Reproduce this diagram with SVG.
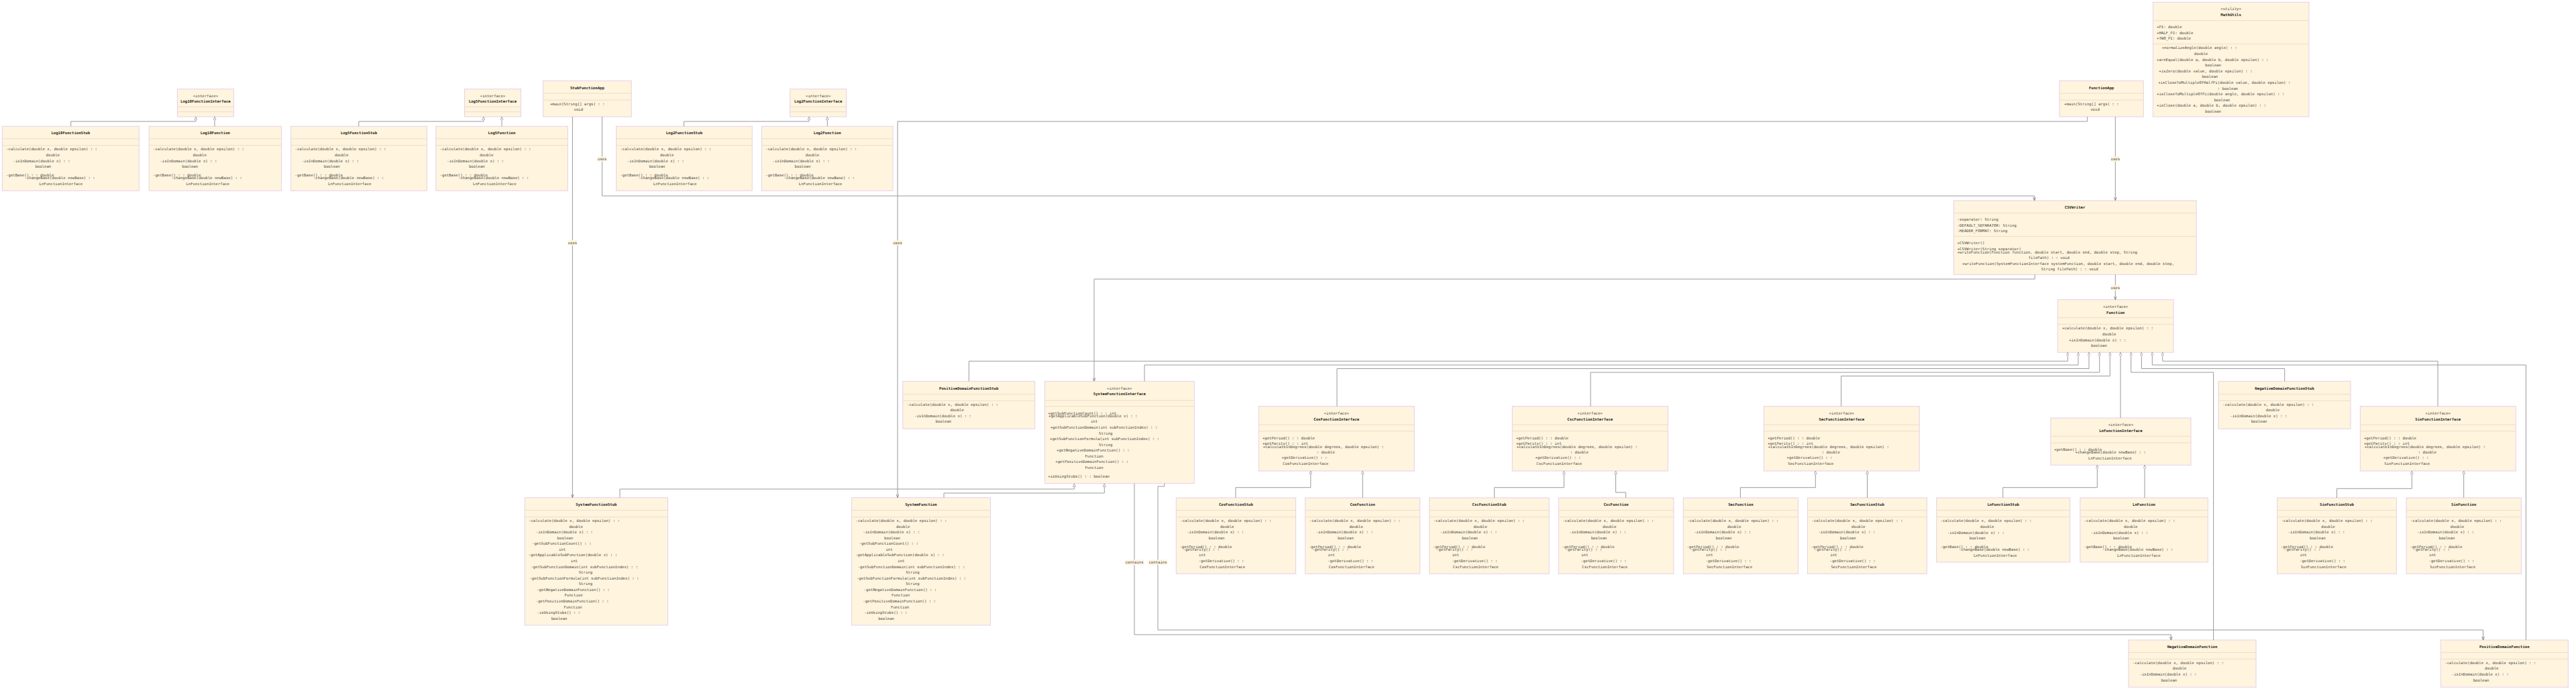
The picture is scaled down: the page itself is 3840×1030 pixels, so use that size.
<svg xmlns="http://www.w3.org/2000/svg" width="3840" height="1030" viewBox="0 0 3840 1030">
<style>
.bx{fill:#fff4dd;stroke:#e6d0ea;stroke-width:1}
.dv{stroke:#eedcc8;stroke-width:1}
text{font-family:"DejaVu Sans Mono","Liberation Mono",monospace;font-size:5.65px;fill:#444;dominant-baseline:central}
.b{font-weight:bold;fill:#222}
.c{text-anchor:middle}
.e{fill:none;stroke:#9a9a9a;stroke-width:1}
.r{marker-end:url(#tri)}
.d{marker-end:url(#open)}
.lb{fill:#fff4dd;opacity:0.9}
</style>
<defs>
<marker id="tri" viewBox="0 0 10 10" refX="10" refY="5" markerWidth="5" markerHeight="5" markerUnits="userSpaceOnUse" orient="auto"><path d="M0,1 L10,5 L0,9 z" fill="#fff" stroke="#9a9a9a" stroke-width="1.6"/></marker>
<marker id="open" viewBox="0 0 10 10" refX="10" refY="5" markerWidth="5" markerHeight="5" markerUnits="userSpaceOnUse" orient="auto"><path d="M0,1 L10,5 L0,9" fill="none" stroke="#777" stroke-width="1.6"/></marker>
</defs>
<rect width="3840" height="1030" fill="#fff"/>

<g id="Log10FunctionInterface" transform="translate(264.4,132.7)">
<rect class="bx" width="84" height="41.3"/><line class="dv" x1="0" y1="26.6" x2="84" y2="26.6"/><line class="dv" x1="0" y1="34" x2="84" y2="34"/>
<text class="c" x="42" y="10.6">«interface»</text><text class="b c" x="42" y="18.6">Log10FunctionInterface</text>
</g>
<g id="Log5FunctionInterface" transform="translate(692.5,132.7)">
<rect class="bx" width="84" height="41.3"/><line class="dv" x1="0" y1="26.6" x2="84" y2="26.6"/><line class="dv" x1="0" y1="34" x2="84" y2="34"/>
<text class="c" x="42" y="10.6">«interface»</text><text class="b c" x="42" y="18.6">Log5FunctionInterface</text>
</g>
<g id="Log2FunctionInterface" transform="translate(1177.7,132.7)">
<rect class="bx" width="84" height="41.3"/><line class="dv" x1="0" y1="26.6" x2="84" y2="26.6"/><line class="dv" x1="0" y1="34" x2="84" y2="34"/>
<text class="c" x="42" y="10.6">«interface»</text><text class="b c" x="42" y="18.6">Log2FunctionInterface</text>
</g>

<g id="Log10FunctionStub" transform="translate(3.3,188.3)">
<rect class="bx" width="204" height="96"/><line class="dv" x1="0" y1="18.5" x2="204" y2="18.5"/><line class="dv" x1="0" y1="28.5" x2="204" y2="28.5"/>
<text class="b c" x="102" y="10">Log10FunctionStub</text>
<text x="5.8" y="34">-calculate(double x, double epsilon) : :</text><text class="c" x="75.5" y="42.7">double</text>
<text x="16.2" y="51.7">-isInDomain(double x) : :</text><text class="c" x="61" y="59.7">boolean</text>
<text x="5.8" y="73">-getBase() : : double</text><text x="33.2" y="77">-changeBase(double newBase) : :</text><text class="c" x="87.5" y="85.7">LnFunctionInterface</text>
</g>
<g id="Log10Function" transform="translate(222.2,188.3)">
<rect class="bx" width="197.4" height="96"/><line class="dv" x1="0" y1="18.5" x2="197.4" y2="18.5"/><line class="dv" x1="0" y1="28.5" x2="197.4" y2="28.5"/>
<text class="b c" x="98.7" y="10">Log10Function</text>
<text x="5.8" y="34">-calculate(double x, double epsilon) : :</text><text class="c" x="75.5" y="42.7">double</text>
<text x="16.2" y="51.7">-isInDomain(double x) : :</text><text class="c" x="61" y="59.7">boolean</text>
<text x="5.8" y="73">-getBase() : : double</text><text x="33.2" y="77">-changeBase(double newBase) : :</text><text class="c" x="87.5" y="85.7">LnFunctionInterface</text>
</g>
<g id="Log5FunctionStub" transform="translate(433.7,188.3)">
<rect class="bx" width="202.7" height="96"/><line class="dv" x1="0" y1="18.5" x2="202.7" y2="18.5"/><line class="dv" x1="0" y1="28.5" x2="202.7" y2="28.5"/>
<text class="b c" x="101.3" y="10">Log5FunctionStub</text>
<text x="5.8" y="34">-calculate(double x, double epsilon) : :</text><text class="c" x="75.5" y="42.7">double</text>
<text x="16.2" y="51.7">-isInDomain(double x) : :</text><text class="c" x="61" y="59.7">boolean</text>
<text x="5.8" y="73">-getBase() : : double</text><text x="33.2" y="77">-changeBase(double newBase) : :</text><text class="c" x="87.5" y="85.7">LnFunctionInterface</text>
</g>
<g id="Log5Function" transform="translate(649.8,188.3)">
<rect class="bx" width="196.5" height="96"/><line class="dv" x1="0" y1="18.5" x2="196.5" y2="18.5"/><line class="dv" x1="0" y1="28.5" x2="196.5" y2="28.5"/>
<text class="b c" x="98.2" y="10">Log5Function</text>
<text x="5.8" y="34">-calculate(double x, double epsilon) : :</text><text class="c" x="75.5" y="42.7">double</text>
<text x="16.2" y="51.7">-isInDomain(double x) : :</text><text class="c" x="61" y="59.7">boolean</text>
<text x="5.8" y="73">-getBase() : : double</text><text x="33.2" y="77">-changeBase(double newBase) : :</text><text class="c" x="87.5" y="85.7">LnFunctionInterface</text>
</g>
<g id="Log2FunctionStub" transform="translate(918.6,188.3)">
<rect class="bx" width="202.6" height="96"/><line class="dv" x1="0" y1="18.5" x2="202.6" y2="18.5"/><line class="dv" x1="0" y1="28.5" x2="202.6" y2="28.5"/>
<text class="b c" x="101.3" y="10">Log2FunctionStub</text>
<text x="5.8" y="34">-calculate(double x, double epsilon) : :</text><text class="c" x="75.5" y="42.7">double</text>
<text x="16.2" y="51.7">-isInDomain(double x) : :</text><text class="c" x="61" y="59.7">boolean</text>
<text x="5.8" y="73">-getBase() : : double</text><text x="33.2" y="77">-changeBase(double newBase) : :</text><text class="c" x="87.5" y="85.7">LnFunctionInterface</text>
</g>
<g id="Log2Function" transform="translate(1135.5,188.3)">
<rect class="bx" width="195.5" height="96"/><line class="dv" x1="0" y1="18.5" x2="195.5" y2="18.5"/><line class="dv" x1="0" y1="28.5" x2="195.5" y2="28.5"/>
<text class="b c" x="97.7" y="10">Log2Function</text>
<text x="5.8" y="34">-calculate(double x, double epsilon) : :</text><text class="c" x="75.5" y="42.7">double</text>
<text x="16.2" y="51.7">-isInDomain(double x) : :</text><text class="c" x="61" y="59.7">boolean</text>
<text x="5.8" y="73">-getBase() : : double</text><text x="33.2" y="77">-changeBase(double newBase) : :</text><text class="c" x="87.5" y="85.7">LnFunctionInterface</text>
</g>

<g id="StubFunctionApp" transform="translate(809.6,120.5)">
<rect class="bx" width="131.7" height="53.5"/><line class="dv" x1="0" y1="18.7" x2="131.7" y2="18.7"/><line class="dv" x1="0" y1="28.7" x2="131.7" y2="28.7"/>
<text class="b c" x="65.8" y="10.3">StubFunctionApp</text>
<text x="10.3" y="34.6">+main(String[] args) : :</text><text class="c" x="52.7" y="42.8">void</text>
</g>
<g id="FunctionApp" transform="translate(3070,120.5)">
<rect class="bx" width="125.3" height="53.5"/><line class="dv" x1="0" y1="18.7" x2="125.3" y2="18.7"/><line class="dv" x1="0" y1="28.7" x2="125.3" y2="28.7"/>
<text class="b c" x="62.6" y="10.3">FunctionApp</text>
<text x="7" y="34.6">+main(String[] args) : :</text><text class="c" x="53" y="42.8">void</text>
</g>

<g id="MathUtils" transform="translate(3209.3,3.3)">
<rect class="bx" width="232.7" height="170.7"/><line class="dv" x1="0" y1="27.4" x2="232.7" y2="27.4"/><line class="dv" x1="0" y1="62.4" x2="232.7" y2="62.4"/>
<text class="c" x="116.3" y="10">«utility»</text><text class="b c" x="116.3" y="18.7">MathUtils</text>
<text x="5.7" y="36.7">+PI: double</text><text x="5.7" y="45.7">+HALF_PI: double</text><text x="5.7" y="53.7">+TWO_PI: double</text>
<text x="13.4" y="67.7">+normalizeAngle(double angle) : :</text><text class="c" x="71.7" y="76.7">double</text>
<text x="5.7" y="86">+areEqual(double a, double b, double epsilon) : :</text><text class="c" x="89.7" y="94">boolean</text>
<text x="9" y="103">+isZero(double value, double epsilon) : :</text><text class="c" x="85" y="111">boolean</text>
<text x="8" y="120">+isCloseToMultipleOfHalfPi(double value, double epsilon) :</text><text class="c" x="111.7" y="129">: boolean</text>
<text x="5.7" y="136.7">+isCloseToMultipleOfPi(double angle, double epsilon) : :</text><text class="c" x="103" y="145.7">boolean</text>
<text x="5.7" y="154">+isClose(double a, double b, double epsilon) : :</text><text class="c" x="89.7" y="162.4">boolean</text>
</g>

<g id="CSVWriter" transform="translate(2912.3,299)">
<rect class="bx" width="361.7" height="110.3"/><line class="dv" x1="0" y1="18.7" x2="361.7" y2="18.7"/><line class="dv" x1="0" y1="53.3" x2="361.7" y2="53.3"/>
<text class="b c" x="180.8" y="10">CSVWriter</text>
<text x="5.4" y="28">-separator: String</text><text x="5.4" y="36.7">-DEFAULT_SEPARATOR: String</text><text x="5.4" y="45">-HEADER_FORMAT: String</text>
<text x="5.4" y="63.3">+CSVWriter()</text><text x="5.4" y="71.7">+CSVWriter(String separator)</text>
<text x="5.4" y="77">+writeFunction(Function function, double start, double end, double step, String</text><text class="c" x="142" y="85">filePath) : : void</text>
<text x="12.7" y="94">+writeFunction(SystemFunctionInterface systemFunction, double start, double end, double step,</text><text class="c" x="173" y="102">String filePath) : : void</text>
</g>

<g id="Function" transform="translate(3067.3,446.7)">
<rect class="bx" width="172.7" height="78.6"/><line class="dv" x1="0" y1="27" x2="172.7" y2="27"/><line class="dv" x1="0" y1="36.6" x2="172.7" y2="36.6"/>
<text class="c" x="86.3" y="10">«interface»</text><text class="b c" x="86.3" y="19.3">Function</text>
<text x="6.7" y="42.6">+calculate(double x, double epsilon) : :</text><text class="c" x="77" y="51.3">double</text>
<text x="17" y="60.6">+isInDomain(double x) : :</text><text class="c" x="61.7" y="68.6">boolean</text>
</g>

<g id="PositiveDomainFunctionStub" transform="translate(1345.7,568.3)">
<rect class="bx" width="197" height="71"/><line class="dv" x1="0" y1="19.4" x2="197" y2="19.4"/><line class="dv" x1="0" y1="29" x2="197" y2="29"/>
<text class="b c" x="98.5" y="10.7">PositiveDomainFunctionStub</text>
<text x="6.3" y="35">-calculate(double x, double epsilon) : :</text><text class="c" x="81" y="42.7">double</text>
<text x="17.3" y="52">-isInDomain(double x) : :</text><text class="c" x="60.6" y="60">boolean</text>
</g>
<g id="NegativeDomainFunctionStub" transform="translate(3307,568.3)">
<rect class="bx" width="197" height="71"/><line class="dv" x1="0" y1="19.4" x2="197" y2="19.4"/><line class="dv" x1="0" y1="29" x2="197" y2="29"/>
<text class="b c" x="98.5" y="10.7">NegativeDomainFunctionStub</text>
<text x="6.3" y="35">-calculate(double x, double epsilon) : :</text><text class="c" x="81" y="42.7">double</text>
<text x="17.3" y="52">-isInDomain(double x) : :</text><text class="c" x="60.6" y="60">boolean</text>
</g>

<g id="SystemFunctionInterface" transform="translate(1557.3,568.3)">
<rect class="bx" width="223" height="152.4"/><line class="dv" x1="0" y1="28.7" x2="223" y2="28.7"/><line class="dv" x1="0" y1="37.4" x2="223" y2="37.4"/>
<text class="c" x="111.5" y="10.7">«interface»</text><text class="b c" x="111.5" y="18.7">SystemFunctionInterface</text>
<text x="5" y="47.7">+getSubFunctionCount() : : int</text>
<text x="5.7" y="52">+getApplicableSubFunction(double x) : :</text><text class="c" x="73.7" y="59.7">int</text>
<text x="8.4" y="69">+getSubFunctionDomain(int subFunctionIndex) : :</text><text class="c" x="91" y="77.7">String</text>
<text x="7.7" y="85.7">+getSubFunctionFormula(int subFunctionIndex) : :</text><text class="c" x="91" y="94.7">String</text>
<text x="17.7" y="103">+getNegativeDomainFunction() : :</text><text class="c" x="73.7" y="111.7">Function</text>
<text x="16" y="120">+getPositiveDomainFunction() : :</text><text class="c" x="73.7" y="128.7">Function</text>
<text x="5" y="142">+isUsingStubs() : : boolean</text>
</g>

<g id="CosFunctionInterface" transform="translate(1876.3,605.7)">
<rect class="bx" width="232" height="96.3"/><line class="dv" x1="0" y1="27.3" x2="232" y2="27.3"/><line class="dv" x1="0" y1="37" x2="232" y2="37"/>
<text class="c" x="116" y="10">«interface»</text><text class="b c" x="116" y="19.3">CosFunctionInterface</text>
<text x="5.6" y="47.3">+getPeriod() : : double</text><text x="5.6" y="55.3">+getParity() : : int</text>
<text x="6.5" y="60">+calculateInDegrees(double degrees, double epsilon) :</text><text class="c" x="100" y="68">: double</text>
<text x="34.3" y="76.3">+getDerivative() : :</text><text class="c" x="70" y="85">CosFunctionInterface</text>
</g>
<g id="CscFunctionInterface" transform="translate(2254.3,605.7)">
<rect class="bx" width="232" height="96.3"/><line class="dv" x1="0" y1="27.3" x2="232" y2="27.3"/><line class="dv" x1="0" y1="37" x2="232" y2="37"/>
<text class="c" x="116" y="10">«interface»</text><text class="b c" x="116" y="19.3">CscFunctionInterface</text>
<text x="5.6" y="47.3">+getPeriod() : : double</text><text x="5.6" y="55.3">+getParity() : : int</text>
<text x="6.5" y="60">+calculateInDegrees(double degrees, double epsilon) :</text><text class="c" x="100" y="68">: double</text>
<text x="34.3" y="76.3">+getDerivative() : :</text><text class="c" x="70" y="85">CscFunctionInterface</text>
</g>
<g id="SecFunctionInterface" transform="translate(2629.3,605.7)">
<rect class="bx" width="232" height="96.3"/><line class="dv" x1="0" y1="27.3" x2="232" y2="27.3"/><line class="dv" x1="0" y1="37" x2="232" y2="37"/>
<text class="c" x="116" y="10">«interface»</text><text class="b c" x="116" y="19.3">SecFunctionInterface</text>
<text x="5.6" y="47.3">+getPeriod() : : double</text><text x="5.6" y="55.3">+getParity() : : int</text>
<text x="6.5" y="60">+calculateInDegrees(double degrees, double epsilon) :</text><text class="c" x="100" y="68">: double</text>
<text x="34.3" y="76.3">+getDerivative() : :</text><text class="c" x="70" y="85">SecFunctionInterface</text>
</g>
<g id="SinFunctionInterface" transform="translate(3518.3,605.7)">
<rect class="bx" width="232" height="96.3"/><line class="dv" x1="0" y1="27.3" x2="232" y2="27.3"/><line class="dv" x1="0" y1="37" x2="232" y2="37"/>
<text class="c" x="116" y="10">«interface»</text><text class="b c" x="116" y="19.3">SinFunctionInterface</text>
<text x="5.6" y="47.3">+getPeriod() : : double</text><text x="5.6" y="55.3">+getParity() : : int</text>
<text x="6.5" y="60">+calculateInDegrees(double degrees, double epsilon) :</text><text class="c" x="100" y="68">: double</text>
<text x="34.3" y="76.3">+getDerivative() : :</text><text class="c" x="70" y="85">SinFunctionInterface</text>
</g>
<g id="LnFunctionInterface" transform="translate(3056.9,623)">
<rect class="bx" width="209.1" height="70.3"/><line class="dv" x1="0" y1="27.3" x2="209.1" y2="27.3"/><line class="dv" x1="0" y1="37" x2="209.1" y2="37"/>
<text class="c" x="104.5" y="10.3">«interface»</text><text class="b c" x="104.5" y="19.3">LnFunctionInterface</text>
<text x="5" y="47.3">+getBase() : : double</text><text x="36.6" y="51.3">+changeBase(double newBase) : :</text><text class="c" x="88.4" y="60">LnFunctionInterface</text>
</g>

<g id="SystemFunctionStub" transform="translate(782.2,741.7)">
<rect class="bx" width="213.4" height="190.3"/><line class="dv" x1="0" y1="19" x2="213.4" y2="19"/><line class="dv" x1="0" y1="29" x2="213.4" y2="29"/>
<text class="b c" x="106.7" y="10.3">SystemFunctionStub</text>
<text x="5.8" y="34.3">-calculate(double x, double epsilon) : :</text><text class="c" x="76.4" y="43.3">double</text>
<text x="16.6" y="51.3">-isInDomain(double x) : :</text><text class="c" x="60.3" y="60.3">boolean</text>
<text x="10.8" y="68.6">-getSubFunctionCount() : :</text><text class="c" x="55.8" y="77.3">int</text>
<text x="5.4" y="85.6">-getApplicableSubFunction(double x) : :</text><text class="c" x="73.7" y="94.6">int</text>
<text x="9" y="103.3">-getSubFunctionDomain(int subFunctionIndex) : :</text><text class="c" x="90.7" y="111.3">String</text>
<text x="7.2" y="120.3">-getSubFunctionFormula(int subFunctionIndex) : :</text><text class="c" x="90.7" y="128.6">String</text>
<text x="17.9" y="137">-getNegativeDomainFunction() : :</text><text class="c" x="72.8" y="145.3">Function</text>
<text x="16.6" y="154.3">-getPositiveDomainFunction() : :</text><text class="c" x="71.9" y="163">Function</text>
<text x="18.3" y="171.3">-isUsingStubs() : :</text><text class="c" x="51.4" y="180.3">boolean</text>
</g>
<g id="SystemFunction" transform="translate(1269.7,741.7)">
<rect class="bx" width="206.7" height="190.3"/><line class="dv" x1="0" y1="19" x2="206.7" y2="19"/><line class="dv" x1="0" y1="29" x2="206.7" y2="29"/>
<text class="b c" x="103.3" y="10.3">SystemFunction</text>
<text x="5.8" y="34.3">-calculate(double x, double epsilon) : :</text><text class="c" x="76.4" y="43.3">double</text>
<text x="16.6" y="51.3">-isInDomain(double x) : :</text><text class="c" x="60.3" y="60.3">boolean</text>
<text x="10.8" y="68.6">-getSubFunctionCount() : :</text><text class="c" x="55.8" y="77.3">int</text>
<text x="5.4" y="85.6">-getApplicableSubFunction(double x) : :</text><text class="c" x="73.7" y="94.6">int</text>
<text x="9" y="103.3">-getSubFunctionDomain(int subFunctionIndex) : :</text><text class="c" x="90.7" y="111.3">String</text>
<text x="7.2" y="120.3">-getSubFunctionFormula(int subFunctionIndex) : :</text><text class="c" x="90.7" y="128.6">String</text>
<text x="17.9" y="137">-getNegativeDomainFunction() : :</text><text class="c" x="72.8" y="145.3">Function</text>
<text x="16.6" y="154.3">-getPositiveDomainFunction() : :</text><text class="c" x="71.9" y="163">Function</text>
<text x="18.3" y="171.3">-isUsingStubs() : :</text><text class="c" x="51.4" y="180.3">boolean</text>
</g>

<g id="CosFunctionStub" transform="translate(1753.2,742)">
<rect class="bx" width="178.4" height="113.3"/><line class="dv" x1="0" y1="18.7" x2="178.4" y2="18.7"/><line class="dv" x1="0" y1="28.7" x2="178.4" y2="28.7"/>
<text class="b c" x="89.2" y="10">CosFunctionStub</text>
<text x="6.1" y="34">-calculate(double x, double epsilon) : :</text><text class="c" x="75.9" y="43">double</text>
<text x="16" y="51">-isInDomain(double x) : :</text><text class="c" x="60.3" y="60">boolean</text>
<text x="5.2" y="73">-getPeriod() : : double</text><text x="10.4" y="77.3">-getParity() : :</text><text class="c" x="39" y="85">int</text>
<text x="33.4" y="94">-getDerivative() : :</text><text class="c" x="69" y="103">CosFunctionInterface</text>
</g>
<g id="CosFunction" transform="translate(1945.7,742)">
<rect class="bx" width="171" height="113.3"/><line class="dv" x1="0" y1="18.7" x2="171" y2="18.7"/><line class="dv" x1="0" y1="28.7" x2="171" y2="28.7"/>
<text class="b c" x="85.5" y="10">CosFunction</text>
<text x="6.1" y="34">-calculate(double x, double epsilon) : :</text><text class="c" x="75.9" y="43">double</text>
<text x="16" y="51">-isInDomain(double x) : :</text><text class="c" x="60.3" y="60">boolean</text>
<text x="5.2" y="73">-getPeriod() : : double</text><text x="10.4" y="77.3">-getParity() : :</text><text class="c" x="39" y="85">int</text>
<text x="33.4" y="94">-getDerivative() : :</text><text class="c" x="69" y="103">CosFunctionInterface</text>
</g>
<g id="CscFunctionStub" transform="translate(2130.8,742)">
<rect class="bx" width="178.4" height="113.3"/><line class="dv" x1="0" y1="18.7" x2="178.4" y2="18.7"/><line class="dv" x1="0" y1="28.7" x2="178.4" y2="28.7"/>
<text class="b c" x="89.2" y="10">CscFunctionStub</text>
<text x="6.1" y="34">-calculate(double x, double epsilon) : :</text><text class="c" x="75.9" y="43">double</text>
<text x="16" y="51">-isInDomain(double x) : :</text><text class="c" x="60.3" y="60">boolean</text>
<text x="5.2" y="73">-getPeriod() : : double</text><text x="10.4" y="77.3">-getParity() : :</text><text class="c" x="39" y="85">int</text>
<text x="33.4" y="94">-getDerivative() : :</text><text class="c" x="69" y="103">CscFunctionInterface</text>
</g>
<g id="CscFunction" transform="translate(2323.3,742)">
<rect class="bx" width="171.6" height="113.3"/><line class="dv" x1="0" y1="18.7" x2="171.6" y2="18.7"/><line class="dv" x1="0" y1="28.7" x2="171.6" y2="28.7"/>
<text class="b c" x="85.8" y="10">CscFunction</text>
<text x="6.1" y="34">-calculate(double x, double epsilon) : :</text><text class="c" x="75.9" y="43">double</text>
<text x="16" y="51">-isInDomain(double x) : :</text><text class="c" x="60.3" y="60">boolean</text>
<text x="5.2" y="73">-getPeriod() : : double</text><text x="10.4" y="77.3">-getParity() : :</text><text class="c" x="39" y="85">int</text>
<text x="33.4" y="94">-getDerivative() : :</text><text class="c" x="69" y="103">CscFunctionInterface</text>
</g>
<g id="SecFunction" transform="translate(2509.2,742)">
<rect class="bx" width="171.4" height="113.3"/><line class="dv" x1="0" y1="18.7" x2="171.4" y2="18.7"/><line class="dv" x1="0" y1="28.7" x2="171.4" y2="28.7"/>
<text class="b c" x="85.7" y="10">SecFunction</text>
<text x="6.1" y="34">-calculate(double x, double epsilon) : :</text><text class="c" x="75.9" y="43">double</text>
<text x="16" y="51">-isInDomain(double x) : :</text><text class="c" x="60.3" y="60">boolean</text>
<text x="5.2" y="73">-getPeriod() : : double</text><text x="10.4" y="77.3">-getParity() : :</text><text class="c" x="39" y="85">int</text>
<text x="33.4" y="94">-getDerivative() : :</text><text class="c" x="69" y="103">SecFunctionInterface</text>
</g>
<g id="SecFunctionStub" transform="translate(2694.4,742)">
<rect class="bx" width="178" height="113.3"/><line class="dv" x1="0" y1="18.7" x2="178" y2="18.7"/><line class="dv" x1="0" y1="28.7" x2="178" y2="28.7"/>
<text class="b c" x="89" y="10">SecFunctionStub</text>
<text x="6.1" y="34">-calculate(double x, double epsilon) : :</text><text class="c" x="75.9" y="43">double</text>
<text x="16" y="51">-isInDomain(double x) : :</text><text class="c" x="60.3" y="60">boolean</text>
<text x="5.2" y="73">-getPeriod() : : double</text><text x="10.4" y="77.3">-getParity() : :</text><text class="c" x="39" y="85">int</text>
<text x="33.4" y="94">-getDerivative() : :</text><text class="c" x="69" y="103">SecFunctionInterface</text>
</g>
<g id="LnFunctionStub" transform="translate(2886.7,742)">
<rect class="bx" width="199" height="96"/><line class="dv" x1="0" y1="18.5" x2="199" y2="18.5"/><line class="dv" x1="0" y1="28.5" x2="199" y2="28.5"/>
<text class="b c" x="99.5" y="10">LnFunctionStub</text>
<text x="5.8" y="34">-calculate(double x, double epsilon) : :</text><text class="c" x="75.5" y="42.7">double</text>
<text x="16.2" y="51.7">-isInDomain(double x) : :</text><text class="c" x="61" y="59.7">boolean</text>
<text x="5.8" y="73">-getBase() : : double</text><text x="33.2" y="77">-changeBase(double newBase) : :</text><text class="c" x="87.5" y="85.7">LnFunctionInterface</text>
</g>
<g id="LnFunction" transform="translate(3100.8,742)">
<rect class="bx" width="190.5" height="96"/><line class="dv" x1="0" y1="18.5" x2="190.5" y2="18.5"/><line class="dv" x1="0" y1="28.5" x2="190.5" y2="28.5"/>
<text class="b c" x="95.2" y="10">LnFunction</text>
<text x="5.8" y="34">-calculate(double x, double epsilon) : :</text><text class="c" x="75.5" y="42.7">double</text>
<text x="16.2" y="51.7">-isInDomain(double x) : :</text><text class="c" x="61" y="59.7">boolean</text>
<text x="5.8" y="73">-getBase() : : double</text><text x="33.2" y="77">-changeBase(double newBase) : :</text><text class="c" x="87.5" y="85.7">LnFunctionInterface</text>
</g>
<g id="SinFunctionStub" transform="translate(3394.6,742)">
<rect class="bx" width="177.8" height="113.3"/><line class="dv" x1="0" y1="18.7" x2="177.8" y2="18.7"/><line class="dv" x1="0" y1="28.7" x2="177.8" y2="28.7"/>
<text class="b c" x="88.9" y="10">SinFunctionStub</text>
<text x="6.1" y="34">-calculate(double x, double epsilon) : :</text><text class="c" x="75.9" y="43">double</text>
<text x="16" y="51">-isInDomain(double x) : :</text><text class="c" x="60.3" y="60">boolean</text>
<text x="5.2" y="73">-getPeriod() : : double</text><text x="10.4" y="77.3">-getParity() : :</text><text class="c" x="39" y="85">int</text>
<text x="33.4" y="94">-getDerivative() : :</text><text class="c" x="69" y="103">SinFunctionInterface</text>
</g>
<g id="SinFunction" transform="translate(3587.1,742)">
<rect class="bx" width="171.3" height="113.3"/><line class="dv" x1="0" y1="18.7" x2="171.3" y2="18.7"/><line class="dv" x1="0" y1="28.7" x2="171.3" y2="28.7"/>
<text class="b c" x="85.6" y="10">SinFunction</text>
<text x="6.1" y="34">-calculate(double x, double epsilon) : :</text><text class="c" x="75.9" y="43">double</text>
<text x="16" y="51">-isInDomain(double x) : :</text><text class="c" x="60.3" y="60">boolean</text>
<text x="5.2" y="73">-getPeriod() : : double</text><text x="10.4" y="77.3">-getParity() : :</text><text class="c" x="39" y="85">int</text>
<text x="33.4" y="94">-getDerivative() : :</text><text class="c" x="69" y="103">SinFunctionInterface</text>
</g>

<g id="NegativeDomainFunction" transform="translate(3173,954)">
<rect class="bx" width="190" height="70.3"/><line class="dv" x1="0" y1="18.7" x2="190" y2="18.7"/><line class="dv" x1="0" y1="28.3" x2="190" y2="28.3"/>
<text class="b c" x="95" y="10">NegativeDomainFunction</text>
<text x="6" y="34">-calculate(double x, double epsilon) : :</text><text class="c" x="76" y="42">double</text>
<text x="16.5" y="51">-isInDomain(double x) : :</text><text class="c" x="60.3" y="60">boolean</text>
</g>
<g id="PositiveDomainFunction" transform="translate(3638.3,954)">
<rect class="bx" width="190" height="70.3"/><line class="dv" x1="0" y1="18.7" x2="190" y2="18.7"/><line class="dv" x1="0" y1="28.3" x2="190" y2="28.3"/>
<text class="b c" x="95" y="10">PositiveDomainFunction</text>
<text x="6" y="34">-calculate(double x, double epsilon) : :</text><text class="c" x="76" y="42">double</text>
<text x="16.5" y="51">-isInDomain(double x) : :</text><text class="c" x="60.3" y="60">boolean</text>
</g>

<g id="connectors">
<path class="e r" d="M105.7,188.3V181H291.9V174"/>
<path class="e r" d="M320,188.3V174"/>
<path class="e r" d="M534.8,188.3V181H720.8V174"/>
<path class="e r" d="M748,188.3V174"/>
<path class="e r" d="M1019.5,188.3V181H1206V174"/>
<path class="e r" d="M1233.3,188.3V174"/>
<path class="e r" d="M1444.3,568.3V538.3H3082.3V525.3"/>
<path class="e r" d="M1706,568.3V544H3098V525.3"/>
<path class="e r" d="M1993,605.7V549.5H3114V525.3"/>
<path class="e r" d="M2371,605.7V555H3129.7V525.3"/>
<path class="e r" d="M2744.6,605.7V560.5H3145.3V525.3"/>
<path class="e r" d="M3161,623V525.3"/>
<path class="e r" d="M3299.6,954V555H3176.7V525.3"/>
<path class="e r" d="M3405.7,568.3V549.5H3192.3V525.3"/>
<path class="e r" d="M3765.4,954V544H3208.3V525.3"/>
<path class="e r" d="M3634,605.7V538.3H3223.7V525.3"/>
<path class="e r" d="M924,741.7V729H1601.3V720.7"/>
<path class="e r" d="M1407,741.7V735H1646.3V720.7"/>
<path class="e r" d="M1842,742V726.7H1953.8V702"/>
<path class="e r" d="M2031.3,742V702"/>
<path class="e r" d="M2227.6,742V726.7H2331.4V702"/>
<path class="e r" d="M2423.7,742V734H2408.6V702"/>
<path class="e r" d="M2594.4,742V726.7H2706.3V702"/>
<path class="e r" d="M2783.5,742V702"/>
<path class="e r" d="M2985.7,742V726.7H3126.3V693.3"/>
<path class="e r" d="M3197,742V693.3"/>
<path class="e r" d="M3483.5,742V728.3H3595.3V702"/>
<path class="e r" d="M3672.7,742V702"/>
<path class="e d" d="M853.4,174V741.7"/>
<path class="e d" d="M897.6,174V292H3032.7V299"/>
<path class="e d" d="M3153.3,174V299"/>
<path class="e d" d="M3111.7,174V181H1338V741.7"/>
<path class="e d" d="M3153.3,409.3V446.7"/>
<path class="e d" d="M3033.3,409.3V416H1631V568.3"/>
<path class="e d" d="M1691,720.7V946H3236.3V954"/>
<path class="e d" d="M1735.7,720.7V725H1726V939H3701.6V954"/>
<rect class="lb" x="846.4" y="358" width="14" height="8"/><text class="c" x="853.4" y="362">uses</text>
<rect class="lb" x="1331" y="358" width="14" height="8"/><text class="c" x="1338" y="362">uses</text>
<rect class="lb" x="890.6" y="233" width="14" height="8"/><text class="c" x="897.6" y="237">uses</text>
<rect class="lb" x="3146.3" y="233" width="14" height="8"/><text class="c" x="3153.3" y="237">uses</text>
<rect class="lb" x="3146.3" y="425" width="14" height="8"/><text class="c" x="3153.3" y="429">uses</text>
<rect class="lb" x="1677" y="834.3" width="28" height="8"/><text class="c" x="1691" y="838.3">contains</text>
<rect class="lb" x="1712" y="834.3" width="28" height="8"/><text class="c" x="1726" y="838.3">contains</text>
</g>
</svg>
